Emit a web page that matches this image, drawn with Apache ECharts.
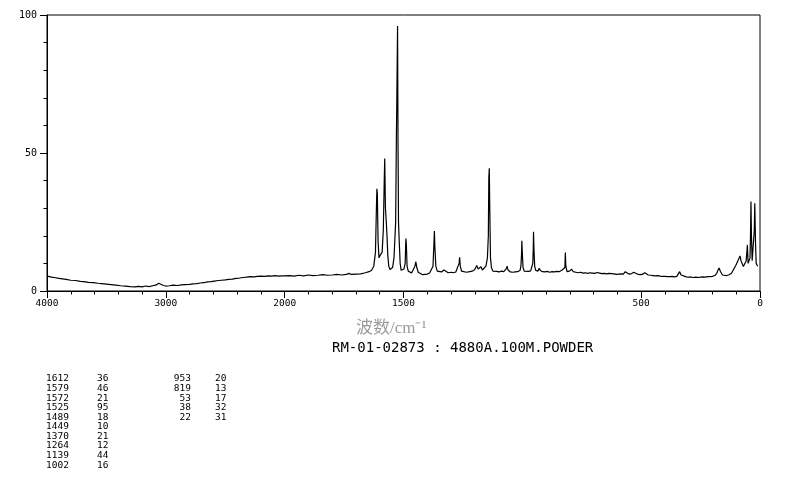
<!DOCTYPE html>
<html>
<head>
<meta charset="utf-8">
<script src="https://cdn.jsdelivr.net/npm/echarts@6/dist/echarts.min.js"></script>
<style>
html,body{margin:0;padding:0;background:#fff;}
#chart{width:794px;height:482px;}
</style>
</head>
<body>
<div id="chart"></div>
<script>
// Spectrum: [wavenumber (cm-1), intensity]
const spectrum = [
[4000,5.4],[3980,5.2],[3960,5.0],[3930,4.8],[3900,4.6],[3870,4.4],[3840,4.2],[3800,3.9],[3760,3.8],[3720,3.5],
[3690,3.4],[3650,3.1],[3610,3.0],[3570,2.8],[3540,2.7],[3500,2.5],[3460,2.3],[3420,2.1],[3380,1.9],[3340,1.8],
[3300,1.6],[3260,1.5],[3230,1.7],[3200,1.5],[3170,1.8],[3140,1.6],[3110,1.9],[3080,2.2],[3060,2.8],[3045,2.5],
[3020,2.0],[3000,1.8],[2970,1.9],[2940,2.1],[2900,2.0],[2870,2.2],[2840,2.3],[2800,2.4],[2770,2.6],[2740,2.7],
[2710,2.9],[2680,3.0],[2650,3.3],[2620,3.4],[2590,3.6],[2560,3.8],[2530,3.9],[2500,4.0],[2470,4.2],[2440,4.3],
[2410,4.6],[2380,4.7],[2350,4.9],[2320,5.0],[2290,5.2],[2260,5.1],[2230,5.3],[2200,5.4],[2170,5.3],[2140,5.5],
[2110,5.4],[2080,5.6],[2050,5.4],[2020,5.5],[2000,5.5],
[1980,5.6],[1960,5.4],[1940,5.7],[1920,5.5],[1900,5.8],[1880,5.6],[1860,5.7],[1840,5.9],[1820,5.7],[1800,5.8],
[1780,6.0],[1760,5.8],[1740,6.0],[1730,6.4],[1720,6.0],[1700,6.1],[1680,6.2],[1660,6.6],[1645,7.0],[1635,7.4],
[1625,9],[1618,14],[1614,30],[1612,37],[1610,35],[1607,18],[1603,12],[1598,13],[1594,13],[1590,14],
[1585,22],[1581,40],[1579,48],[1576,30],[1573,26],[1570,21],[1566,13],[1562,9],[1557,7.8],[1552,7.6],
[1546,8.5],[1540,12],[1533,25],[1530,55],[1528,70],[1525,96],[1523,53],[1521,25],[1518,18],[1514,10],
[1510,7.5],[1504,7.0],[1498,8.0],[1493,10],[1490,19],[1488,17],[1485,9],[1480,7.2],[1474,6.8],[1466,6.5],
[1458,7.0],[1452,9],[1448,10.6],[1444,8.5],[1438,6.8],[1430,6.2],[1420,5.9],[1410,6.0],[1400,6.1],[1390,6.5],
[1382,7.2],[1376,9],[1372,17],[1370,21.7],[1368,16],[1364,9],[1358,7.2],[1350,6.7],[1340,6.9],[1330,7.6],
[1327,8.2],[1322,7.0],[1312,6.6],[1300,6.8],[1290,6.6],[1280,6.9],[1272,7.4],[1266,10],[1264,12.2],[1261,9],
[1256,7.2],[1246,7.0],[1235,6.8],[1222,7.0],[1210,7.2],[1200,7.8],[1192,9.2],[1186,8.0],[1180,8.0],[1174,8.8],
[1168,7.6],[1160,7.8],[1153,9.0],[1147,12],[1143,20],[1141,41],[1139,44.5],[1137,30],[1134,12],[1130,8.5],
[1124,7.2],[1116,7.0],[1108,7.1],[1098,6.9],[1088,7.2],[1078,7.0],[1068,8.0],[1064,9.0],[1060,7.6],[1050,6.9],
[1040,6.8],[1030,6.9],[1020,7.0],[1010,7.4],[1006,9],[1003,14],[1002,18.2],[1000,13.7],[997,8.5],[992,7.2],
[985,7.0],[975,7.1],[965,7.3],[960,7.8],[956,10],[954,15.2],[953,21.5],[951,15],[948,9],[944,7.5],
[935,7.2],[929,8.2],[924,7.4],[915,7.0],[905,6.9],[895,7.1],[885,6.8],[875,7.0],[865,6.9],[855,7.1],
[845,7.0],[834,7.5],[826,7.0],[821,8.5],[819,13.9],[817,9],[812,7.0],[802,7.2],[792,7.9],[786,7.0],
[775,6.8],[765,6.6],[755,6.8],[745,6.5],[735,6.6],[725,6.4],[715,6.6],[705,6.5],[695,6.4],[685,6.7],
[675,6.5],[665,6.3],[655,6.4],[645,6.2],[635,6.4],[625,6.3],[615,6.2],[605,6.0],[595,6.1],[585,6.2],
[575,6.1],[567,7.0],[560,6.3],[550,6.1],[540,6.3],[531,6.8],[524,6.2],[515,6.1],[505,5.9],[495,6.0],
[485,6.6],[478,6.0],[470,5.8],[460,5.7],[450,5.6],[440,5.5],[430,5.6],[420,5.4],[410,5.3],[400,5.3],
[390,5.2],[380,5.2],[370,5.3],[360,5.1],[350,5.3],[342,5.6],[338,7.0],[332,5.8],[324,5.2],[310,5.1],
[300,5.0],[290,5.0],[280,4.9],[270,5.0],[260,4.9],[250,5.0],[240,5.1],[230,5.0],[220,5.2],[210,5.2],
[200,5.3],[190,5.6],[182,6.4],[177,7.5],[172,8.3],[166,7.0],[158,5.8],[150,5.4],[140,5.6],[130,5.9],
[120,6.4],[110,8.0],[101,9.4],[90,11.5],[84,12.7],[80,11],[77,10.4],[70,8.9],[63,9.0],[58,11],
[53,16.7],[50,10],[47,9.4],[42,12],[40,20],[38,32.4],[36,20],[33,11],[31,10.6],[27,11],
[24,22],[22,31.8],[19,18],[16,10],[14,9.4],[10,9.0]
];

// Peak table
const peakWn1 = [1612,1579,1572,1525,1489,1449,1370,1264,1139,1002];
const peakInt1 = [36,46,21,95,18,10,21,12,44,16];
const peakWn2 = [953,819,53,38,22];
const peakInt2 = [20,13,17,32,31];

// Axis labels
const xTickWn = [4000,3000,2000,1500,500,0];
const yTickVals = [0,50,100];
const xAxisTitle = '波数/cm⁻¹';
const sampleTitle = 'RM-01-02873 : 4880A.100M.POWDER';

// Piecewise wavenumber scale: 4000-2000 compressed 2x relative to 2000-0
function toT(wn){ return wn >= 2000 ? (4000 - wn) / 2 : 1000 + (2000 - wn); }
function toWn(t){ return t <= 1000 ? 4000 - 2 * t : 2000 - (t - 1000); }

const majorT = xTickWn.map(toT);
const mono = 'DejaVu Sans Mono';

const graphics = [];
graphics.push({type:'text', left:356, top:320, style:{text:xAxisTitle, fill:'#9a9a9a', font:'17px "Liberation Serif", "Noto Sans CJK SC"'}});
graphics.push({type:'text', left:332, top:341, style:{text:sampleTitle, fill:'#000', font:'14px "'+mono+'"'}});
const rowH = 9.57, row0 = 374;
peakWn1.forEach((w,i)=>{
  graphics.push({type:'text', x:46, y:row0+i*rowH, style:{text:String(w), fill:'#000', font:'9.5px "'+mono+'"', align:'left'}});
  graphics.push({type:'text', x:97, y:row0+i*rowH, style:{text:String(peakInt1[i]), fill:'#000', font:'9.5px "'+mono+'"', align:'left'}});
});
peakWn2.forEach((w,i)=>{
  graphics.push({type:'text', x:191, y:row0+i*rowH, style:{text:String(w), fill:'#000', font:'9.5px "'+mono+'"', align:'right'}});
  graphics.push({type:'text', x:215, y:row0+i*rowH, style:{text:String(peakInt2[i]), fill:'#000', font:'9.5px "'+mono+'"', align:'left'}});
});

const chart = echarts.init(document.getElementById('chart'), null, {renderer:'canvas'});
const axLine = {show:true, lineStyle:{color:'#000', width:1}};
chart.setOption({
  animation:false,
  backgroundColor:'#fff',
  grid:{left:47, right:34, top:15, bottom:191, show:true, borderColor:'#000', borderWidth:1},
  xAxis:[
    {type:'value', min:0, max:3000, interval:100, position:'bottom',
     axisLine:axLine, splitLine:{show:false},
     axisTick:{show:true, length:3.5, lineStyle:{color:'#000'}},
     axisLabel:{show:true, margin:8, color:'#000', fontFamily:mono, fontSize:9.5,
       customValues: majorT,
       formatter:(v)=>String(Math.round(toWn(v)))}},
    {type:'value', min:0, max:3000, position:'bottom', gridIndex:0,
     axisLine:{show:false}, splitLine:{show:false}, axisLabel:{show:false},
     axisTick:{show:true, length:7, customValues: majorT, lineStyle:{color:'#000'}}}
  ],
  yAxis:[
    {type:'value', min:0, max:100, interval:10, position:'left',
     axisLine:axLine, splitLine:{show:false},
     axisTick:{show:true, length:3.5, lineStyle:{color:'#000'}},
     axisLabel:{show:true, margin:10, color:'#000', fontFamily:mono, fontSize:10, customValues: yTickVals}},
    {type:'value', min:0, max:100, position:'left', gridIndex:0,
     axisLine:{show:false}, splitLine:{show:false}, axisLabel:{show:false},
     axisTick:{show:true, length:7, customValues: yTickVals, lineStyle:{color:'#000'}}}
  ],
  series:[{
    type:'line', xAxisIndex:0, yAxisIndex:0, showSymbol:false, symbol:'none',
    lineStyle:{color:'#000', width:1.2}, data: spectrum.map(p=>[toT(p[0]), p[1]])
  }],
  graphic: graphics
});
</script>
</body>
</html>
